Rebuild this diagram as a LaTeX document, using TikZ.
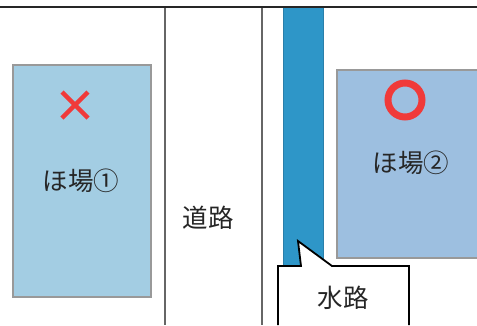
\documentclass[tikz,border=0pt]{standalone}
\usepackage{fontspec}
\newfontfamily\jp{Noto Sans CJK JP}
\definecolor{fieldA}{HTML}{A3CDE3}
\definecolor{fieldB}{HTML}{9DBFE0}
\definecolor{water}{HTML}{2E96C8}
\definecolor{waterb}{HTML}{2A7FAA}
\definecolor{redmark}{HTML}{F03A3A}
\definecolor{edgegray}{HTML}{999999}
\begin{document}
\begin{tikzpicture}[x=1pt,y=-1pt,
  field/.style={draw=edgegray,line width=2pt},
  lbl/.style={font=\jp\fontsize{25.5}{25.5}\selectfont,text=black!85},
  roadline/.style={draw=black!60,line width=1.2pt}]
\useasboundingbox (0,0) rectangle (477,325);
% road lines
\draw[roadline] (165,7) -- (165,325);
\draw[roadline] (262,7) -- (262,325);
% water channel
\fill[water,draw=waterb,line width=1pt] (283,6) rectangle (323,266);
% top line
\draw[black!85,line width=2.2pt] (0,7) -- (477,7);
% fields
\node[field,fill=fieldA,minimum width=138pt,minimum height=232pt,anchor=north west,inner sep=0pt] (f1) at (12,64) {};
\node[field,fill=fieldB,minimum width=144pt,minimum height=188pt,anchor=north west,inner sep=0pt] (f2) at (336,69) {};
\node[lbl] (t1) at (81,181) {ほ場①};
\node[lbl] (t2) at (411,163) {ほ場②};
\node[lbl] (road) at (208,218) {道路};
% marks
\draw[redmark,line width=4.5pt] (62,92) -- (88,118) (62,118) -- (88,92);
\node[draw=redmark,line width=7pt,circle,minimum size=34pt,inner sep=0pt] (ok) at (405,100) {};
% callout
\draw[fill=white,line width=1.8pt,line join=miter] (278,325) -- (278,266) -- (301,266) -- (298,241) -- (332,266) -- (409,266) -- (409,325);
\node[lbl] (w) at (343,298) {水路};
\end{tikzpicture}
\end{document}
